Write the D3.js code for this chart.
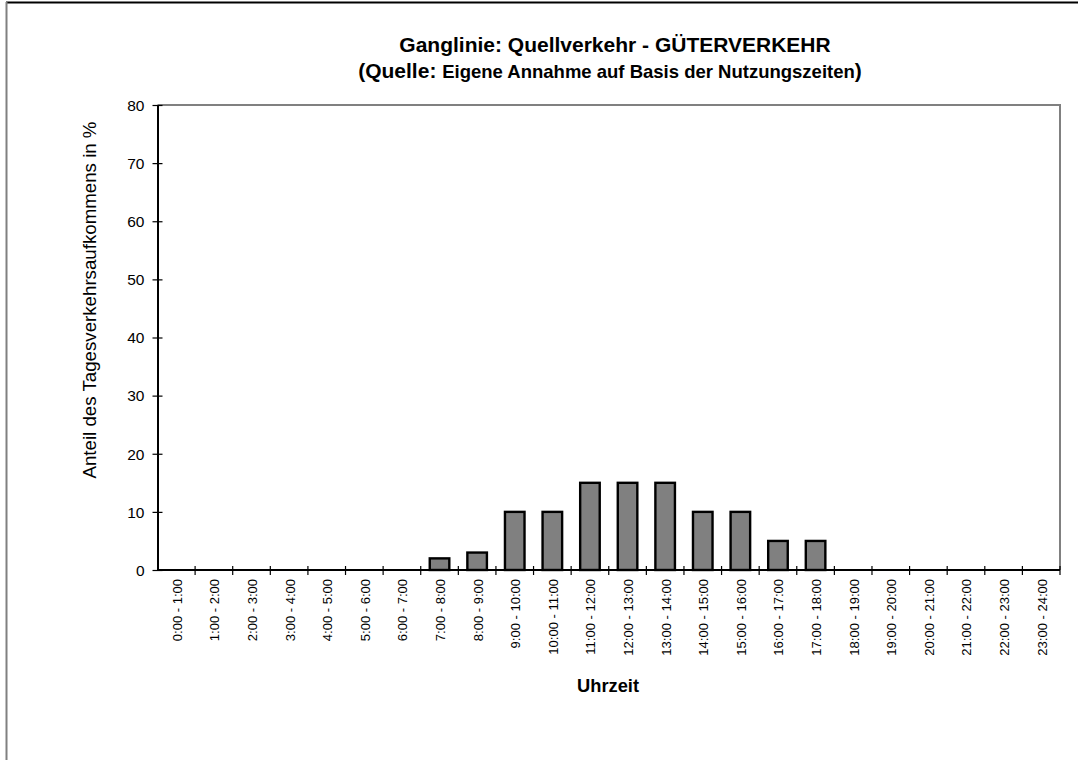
<!DOCTYPE html>
<html>
<head>
<meta charset="utf-8">
<script src="https://cdn.jsdelivr.net/npm/d3@7/dist/d3.min.js"></script>
<style>
  html, body { margin: 0; padding: 0; background: #fff; }
  svg { display: block; font-family: "Liberation Sans", Arial, sans-serif; }
</style>
</head>
<body>
<svg id="chart" width="1078" height="760"></svg>
<script>
// Hourly time slots
const categories = [
  "0:00 - 1:00", "1:00 - 2:00", "2:00 - 3:00", "3:00 - 4:00", "4:00 - 5:00", "5:00 - 6:00",
  "6:00 - 7:00", "7:00 - 8:00", "8:00 - 9:00", "9:00 - 10:00", "10:00 - 11:00", "11:00 - 12:00",
  "12:00 - 13:00", "13:00 - 14:00", "14:00 - 15:00", "15:00 - 16:00", "16:00 - 17:00", "17:00 - 18:00",
  "18:00 - 19:00", "19:00 - 20:00", "20:00 - 21:00", "21:00 - 22:00", "22:00 - 23:00", "23:00 - 24:00"
];
// Share of daily freight traffic (%) per hour
const shares = [0, 0, 0, 0, 0, 0, 0, 2, 3, 10, 10, 15, 15, 15, 10, 10, 5, 5, 0, 0, 0, 0, 0, 0];
const yTicks = [0, 10, 20, 30, 40, 50, 60, 70, 80];

const svg = d3.select("#chart");
const plot = { left: 157.5, right: 1060, top: 105, bottom: 570 };

// Outer frame: black top edge, grey left edge
svg.append("line").attr("x1", 6).attr("x2", 1078).attr("y1", 2.5).attr("y2", 2.5)
  .attr("stroke", "#000").attr("stroke-width", 2);
svg.append("line").attr("x1", 6.5).attr("x2", 6.5).attr("y1", 2).attr("y2", 760)
  .attr("stroke", "#808080").attr("stroke-width", 2);

const x = d3.scaleBand().domain(categories).range([plot.left, plot.right])
  .paddingInner(0.48).paddingOuter(0.24);
const xTickScale = d3.scaleLinear().domain([0, categories.length]).range([plot.left, plot.right]);
const y = d3.scaleLinear().domain([0, 80]).range([plot.bottom, plot.top]);

// Plot area border (top and right grey)
svg.append("path")
  .attr("d", `M${plot.left},${plot.top}H${plot.right}V${plot.bottom}`)
  .attr("fill", "none").attr("stroke", "#808080").attr("stroke-width", 2);

// Bars
svg.append("g").selectAll("rect")
  .data(shares.map((v, i) => ({ cat: categories[i], v })).filter(d => d.v > 0))
  .join("rect")
  .attr("x", d => x(d.cat))
  .attr("width", x.bandwidth())
  .attr("y", d => y(d.v))
  .attr("height", d => y(0) - y(d.v))
  .attr("fill", "#808080")
  .attr("stroke", "#000")
  .attr("stroke-width", 2.4);

// Y axis
const yAxis = svg.append("g")
  .attr("transform", `translate(${plot.left},0)`)
  .call(d3.axisLeft(y).tickValues(yTicks).tickSize(5).tickPadding(6).tickSizeOuter(0));
yAxis.select(".domain").attr("stroke", "#000").attr("stroke-width", 2);
yAxis.selectAll(".tick line").attr("stroke", "#000").attr("stroke-width", 1.2)
  .attr("x2", 5).attr("x1", -5);
yAxis.selectAll(".tick text").attr("font-size", 15.5).attr("fill", "#000")
  .attr("font-family", "Liberation Sans, Arial, sans-serif").attr("x", -13).attr("dy", "0.34em");

// X axis line with ticks at category boundaries
const xAxisG = svg.append("g").attr("transform", `translate(0,${plot.bottom})`);
xAxisG.append("line").attr("x1", plot.left).attr("x2", plot.right).attr("y1", 0).attr("y2", 0)
  .attr("stroke", "#000").attr("stroke-width", 2);
xAxisG.selectAll("line.tk").data(d3.range(1, categories.length + 1)).join("line")
  .attr("class", "tk")
  .attr("x1", d => xTickScale(d)).attr("x2", d => xTickScale(d))
  .attr("y1", -4).attr("y2", 5)
  .attr("stroke", "#000").attr("stroke-width", 1.2);
xAxisG.selectAll("text").data(categories).join("text")
  .attr("transform", d => `translate(${x(d) + x.bandwidth() / 2 + 5.5},9) rotate(-90)`)
  .attr("text-anchor", "end")
  .attr("font-size", 13)
  .attr("fill", "#000")
  .text(d => d);

// Titles
svg.append("text").attr("x", 615).attr("y", 52)
  .attr("text-anchor", "middle").attr("font-weight", "bold").attr("font-size", 21)
  .text("Ganglinie: Quellverkehr - GÜTERVERKEHR");
const sub = svg.append("text").attr("x", 610).attr("y", 78)
  .attr("text-anchor", "middle").attr("font-weight", "bold");
sub.append("tspan").attr("font-size", 21).text("(Quelle: ");
sub.append("tspan").attr("font-size", 18.5).text("Eigene Annahme auf Basis der Nutzungszeiten");
sub.append("tspan").attr("font-size", 21).text(")");

// Axis titles
svg.append("text")
  .attr("transform", `translate(96,300) rotate(-90)`)
  .attr("text-anchor", "middle").attr("font-size", 18.7)
  .text("Anteil des Tagesverkehrsaufkommens in %");
svg.append("text").attr("x", 608).attr("y", 692)
  .attr("text-anchor", "middle").attr("font-weight", "bold").attr("font-size", 18.3)
  .text("Uhrzeit");
</script>
</body>
</html>
